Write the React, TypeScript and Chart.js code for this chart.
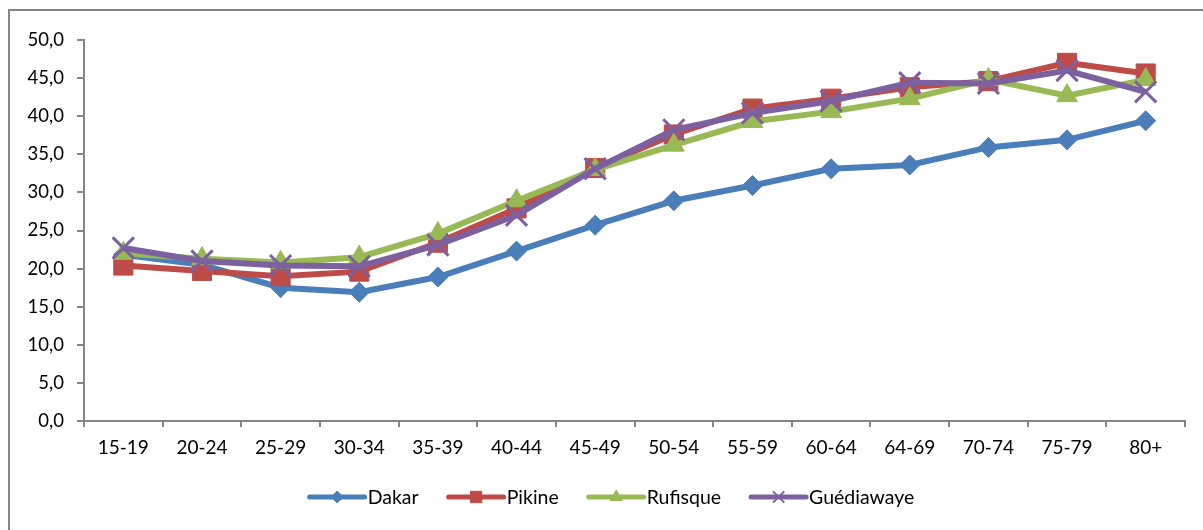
import React, { useEffect, useRef } from 'react';
import { Chart, registerables } from 'chart.js';
import { drawPoint } from 'chart.js/helpers';

Chart.register(...registerables);

const categories = ['15-19', '20-24', '25-29', '30-34', '35-39', '40-44', '45-49', '50-54', '55-59', '60-64', '64-69', '70-74', '75-79', '80+'];
const dakar = [21.8, 20.5, 17.5, 16.9, 18.9, 22.3, 25.7, 28.9, 30.9, 33.1, 33.6, 35.9, 36.9, 39.4];
const pikine = [20.4, 19.7, 19.0, 19.6, 23.4, 27.9, 33.2, 37.6, 41.0, 42.3, 43.8, 44.6, 47.0, 45.6];
const rufisque = [22.0, 21.3, 20.8, 21.5, 24.6, 28.9, 33.0, 36.2, 39.3, 40.6, 42.3, 44.8, 42.7, 44.8];
const guediawaye = [22.7, 21.0, 20.4, 20.3, 23.1, 27.0, 33.1, 38.2, 40.4, 42.0, 44.4, 44.3, 46.0, 43.2];

const FONT = 'Lato';
const AXIS = '#868686';

const legendPlugin = {
  id: 'excelLegend',
  afterDraw(chart: any) {
    const ctx = chart.ctx;
    const o = chart.options.plugins.excelLegend;
    ctx.save();
    ctx.font = `${o.size}px ${FONT}`;
    const items = chart.data.datasets.map((ds: any) => ({ ds, w: ctx.measureText(ds.label).width }));
    const total = items.reduce((s: number, it: any) => s + o.lineLen + o.textGap + it.w, 0) + o.itemGap * (items.length - 1);
    let x = o.centerX - total / 2;
    const y = o.y;
    items.forEach(({ ds, w }: any) => {
      ctx.strokeStyle = ds.borderColor;
      ctx.lineWidth = 5;
      ctx.lineCap = 'round';
      ctx.beginPath();
      ctx.moveTo(x, y);
      ctx.lineTo(x + o.lineLen, y);
      ctx.stroke();
      ctx.lineCap = 'butt';
      ctx.fillStyle = ds.pointBackgroundColor;
      ctx.strokeStyle = ds.pointBorderColor;
      ctx.lineWidth = ds.pointStyle === 'crossRot' ? 2 : 1;
      drawPoint(ctx, { pointStyle: ds.pointStyle, rotation: 0, radius: ds.legendRadius, borderWidth: ctx.lineWidth }, x + o.lineLen / 2, y);
      ctx.fillStyle = '#000';
      ctx.textBaseline = 'middle';
      ctx.textAlign = 'left';
      ctx.fillText(ds.label, x + o.lineLen + o.textGap, y + 1);
      x += o.lineLen + o.textGap + w + o.itemGap;
    });
    ctx.restore();
  },
};

function mk(label: string, data: number[], color: string, style: string, radius: number, legendRadius: number, order: number, pbw = 1) {
  return {
    label,
    data,
    borderColor: color,
    backgroundColor: color,
    pointBackgroundColor: color,
    pointBorderColor: color,
    pointStyle: style,
    pointRadius: radius,
    pointBorderWidth: pbw,
    borderWidth: 6,
    tension: 0,
    order,
    legendRadius,
  } as any;
}

export default function App() {
  const ref = useRef<HTMLCanvasElement>(null);
  useEffect(() => {
    const chart = new Chart(ref.current!, {
      type: 'line',
      data: {
        labels: categories,
        datasets: [
          mk('Dakar', dakar, '#4A7EBB', 'rectRot', 10, 6, 4),
          mk('Pikine', pikine, '#BE4B48', 'rect', 13.5, 8, 3),
          mk('Rufisque', rufisque, '#98B954', 'triangle', 12, 7, 2),
          mk('Guédiawaye', guediawaye, '#7D60A0', 'crossRot', 15, 8, 1, 3),
        ],
      },
      options: {
        animation: false,
        responsive: false,
        layout: { padding: { left: 0, top: 40, right: 17, bottom: 0 } },
        plugins: {
          legend: { display: false },
          tooltip: { enabled: false },
          excelLegend: { size: 19.5, lineLen: 55, textGap: 3, itemGap: 30, centerX: 612, y: 497 },
        } as any,
        scales: {
          x: {
            offset: true,
            grid: { offset: true, drawOnChartArea: false, drawTicks: true, tickLength: 6, color: AXIS, lineWidth: 2 },
            border: { color: AXIS, width: 2 },
            ticks: { color: '#000', font: { family: FONT, size: 19 }, padding: 9, maxRotation: 0, autoSkip: false },
            afterFit: (s: any) => { s.height = 109; },
          },
          y: {
            min: 0,
            max: 50,
            grid: { drawOnChartArea: false, drawTicks: true, tickLength: 7, color: AXIS, lineWidth: 2 },
            border: { color: AXIS, width: 2 },
            ticks: {
              stepSize: 5,
              color: '#000',
              font: { family: FONT, size: 18.5 },
              padding: 13,
              callback: (v: any) => Number(v).toFixed(1).replace('.', ','),
            },
            afterFit: (s: any) => { s.width = 84; },
          },
        },
      },
      plugins: [legendPlugin],
    });
    return () => chart.destroy();
  }, []);
  return (
    <div style={{ position: 'fixed', left: 0, top: 0, width: 1203, height: 530, overflow: 'hidden', background: '#fff' }}>
      <div style={{ position: 'absolute', left: 8, top: 9, width: 1300, height: 700, border: `2px solid ${AXIS}`, boxSizing: 'border-box' }} />
      <canvas ref={ref} width={1203} height={530} style={{ position: 'absolute', left: 0, top: 0, width: 1203, height: 530 }} />
    </div>
  );
}
